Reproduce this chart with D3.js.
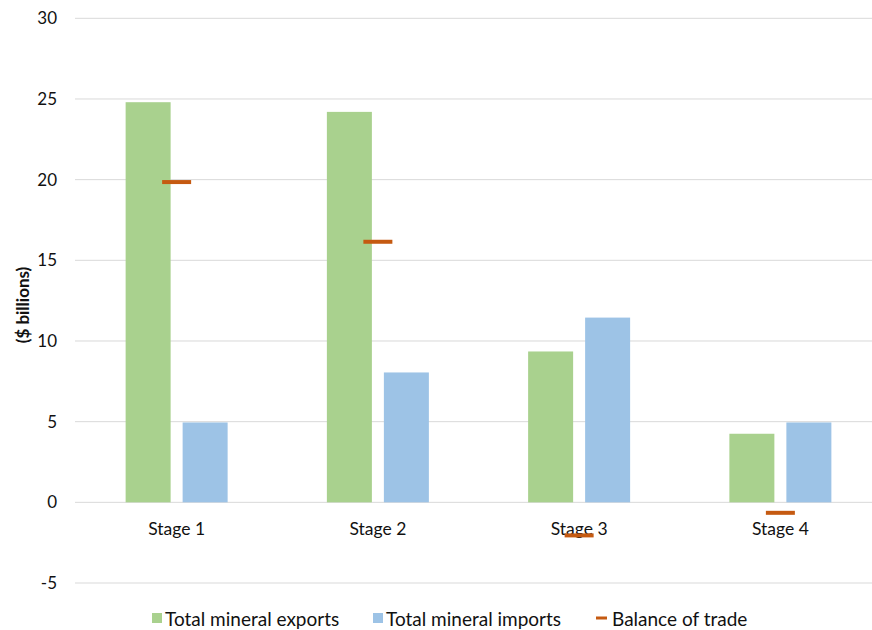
<!DOCTYPE html>
<html>
<head>
<meta charset="utf-8">
<script src="https://cdn.jsdelivr.net/npm/d3@7/dist/d3.min.js"></script>
<style>
  html, body { margin: 0; padding: 0; background: #fff; }
  svg { display: block; font-family: Lato, "Open Sans", sans-serif; }
</style>
</head>
<body>
<svg id="chart" width="872" height="630"></svg>
<script>
// Mineral trade by stage ($ billions)
const stages = ["Stage 1", "Stage 2", "Stage 3", "Stage 4"];
const exportsVals = [24.8, 24.2, 9.35, 4.25];
const importsVals = [4.95, 8.05, 11.45, 4.95];
const balanceVals = [19.85, 16.15, -2.05, -0.65];
const yTicks = [-5, 0, 5, 10, 15, 20, 25, 30];
const seriesNames = ["Total mineral exports", "Total mineral imports", "Balance of trade"];

const colors = { exp: "#A9D18E", imp: "#9DC3E6", bal: "#C55A11" };

const svg = d3.select("#chart");

const x = d3.scaleBand().domain(stages).range([76, 881]);
const y = d3.scaleLinear().domain([-5, 30]).range([583, 18.3]);

const barW = 45, gap = 12;

// horizontal gridlines
svg.append("g").selectAll("line").data(yTicks).join("line")
  .attr("x1", 75).attr("x2", 872)
  .attr("y1", d => y(d)).attr("y2", d => y(d))
  .attr("stroke", "#d9d9d9").attr("stroke-width", 1);

// y tick labels
svg.append("g").selectAll("text").data(yTicks).join("text")
  .attr("x", 57).attr("y", d => y(d)).attr("dy", "0.36em")
  .attr("text-anchor", "end").attr("font-size", 17).attr("fill", "#111")
  .text(d => d);

// y axis title
svg.append("text")
  .attr("transform", "translate(29,305) rotate(-90)")
  .attr("text-anchor", "middle").attr("font-size", 17).attr("font-weight", "bold")
  .attr("fill", "#111").text("($ billions)");

const groups = svg.append("g").selectAll("g").data(stages).join("g")
  .attr("transform", d => `translate(${x(d) + x.bandwidth() / 2},0)`);

// export bars
groups.append("rect")
  .attr("x", -gap / 2 - barW).attr("width", barW)
  .attr("y", (d, i) => y(exportsVals[i]))
  .attr("height", (d, i) => y(0) - y(exportsVals[i]))
  .attr("fill", colors.exp);

// import bars
groups.append("rect")
  .attr("x", gap / 2).attr("width", barW)
  .attr("y", (d, i) => y(importsVals[i]))
  .attr("height", (d, i) => y(0) - y(importsVals[i]))
  .attr("fill", colors.imp);

// category labels
groups.append("text")
  .attr("y", 535).attr("text-anchor", "middle")
  .attr("font-size", 17.5).attr("fill", "#111")
  .text(d => d);

// balance markers
groups.append("rect")
  .attr("x", -14.5).attr("width", 29).attr("height", 4)
  .attr("y", (d, i) => y(balanceVals[i]) - 2)
  .attr("fill", colors.bal);

// legend
const legend = svg.append("g");
const items = [
  { name: seriesNames[0], x: 152, kind: "box", color: colors.exp },
  { name: seriesNames[1], x: 373, kind: "box", color: colors.imp },
  { name: seriesNames[2], x: 596, kind: "dash", color: colors.bal }
];
items.forEach(it => {
  if (it.kind === "box") {
    legend.append("rect").attr("x", it.x).attr("y", 613).attr("width", 10).attr("height", 10).attr("fill", it.color);
  } else {
    legend.append("rect").attr("x", it.x).attr("y", 616.5).attr("width", 11).attr("height", 3).attr("fill", it.color);
  }
  legend.append("text")
    .attr("x", it.x + (it.kind === "box" ? 13 : 16)).attr("y", 625.5)
    .attr("font-size", 19).attr("fill", "#111").text(it.name);
});
</script>
</body>
</html>
